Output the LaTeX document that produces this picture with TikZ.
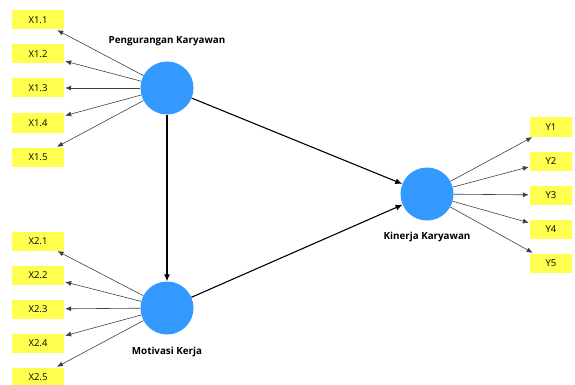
\documentclass[tikz,border=0pt]{standalone}
\usepackage{fontspec}
\setmainfont{Open Sans}
\usetikzlibrary{arrows.meta}
\definecolor{indyellow}{RGB}{255,255,80}
\definecolor{latblue}{RGB}{51,153,255}
\tikzset{
  lat/.style={circle,fill=latblue,minimum size=53pt,inner sep=0pt},
  ind/.style={fill=indyellow,minimum width=52pt,minimum height=19pt,inner sep=0pt,font=\fontsize{9.5}{11}\selectfont},
  indy/.style={ind,minimum width=42pt},
  latlabel/.style={font=\fontsize{9.8}{12}\selectfont\bfseries},
  load/.style={draw=black!75,line width=0.6pt,shorten >=1pt,-{Latex[length=6pt,width=5pt]}},
  path/.style={draw=black,line width=1.1pt,-{Latex[length=7pt,width=6pt]}}
}
\begin{document}
\begin{tikzpicture}[x=1pt,y=-1pt]
\useasboundingbox (0,0) rectangle (575,385);
% latent variables
\node[lat] (peng) at (167,88) {};
\node[lat] (moti) at (167,308) {};
\node[lat] (kine) at (427,194) {};

\node[latlabel] (pengl) at (167,41) {Pengurangan Karyawan};
\node[latlabel] (motil) at (167,352) {Motivasi Kerja};
\node[latlabel] (kinel) at (427,237) {Kinerja Karyawan};

% indicators X1
\node[ind] (x11) at (38,20) {X1.1};
\node[ind] (x12) at (38,54) {X1.2};
\node[ind] (x13) at (38,88) {X1.3};
\node[ind] (x14) at (38,123) {X1.4};
\node[ind] (x15) at (38,157) {X1.5};

% indicators X2
\node[ind] (x21) at (38,241) {X2.1};
\node[ind] (x22) at (38,275) {X2.2};
\node[ind] (x23) at (38,309) {X2.3};
\node[ind] (x24) at (38,343) {X2.4};
\node[ind] (x25) at (38,377) {X2.5};

% indicators Y
\node[indy] (y1) at (551,127) {Y1};
\node[indy] (y2) at (551,161) {Y2};
\node[indy] (y3) at (551,195) {Y3};
\node[indy] (y4) at (551,229) {Y4};
\node[indy] (y5) at (551,263) {Y5};

\draw[load] (peng) -- (x11);
\draw[load] (peng) -- (x12);
\draw[load] (peng) -- (x13);
\draw[load] (peng) -- (x14);
\draw[load] (peng) -- (x15);
\draw[load] (moti) -- (x21);
\draw[load] (moti) -- (x22);
\draw[load] (moti) -- (x23);
\draw[load] (moti) -- (x24);
\draw[load] (moti) -- (x25);
\draw[load] (kine) -- (y1);
\draw[load] (kine) -- (y2);
\draw[load] (kine) -- (y3);
\draw[load] (kine) -- (y4);
\draw[load] (kine) -- (y5);

\draw[path] (peng) -- (moti);
\draw[path] (peng) -- (kine);
\draw[path] (moti) -- (kine);
\end{tikzpicture}
\end{document}
